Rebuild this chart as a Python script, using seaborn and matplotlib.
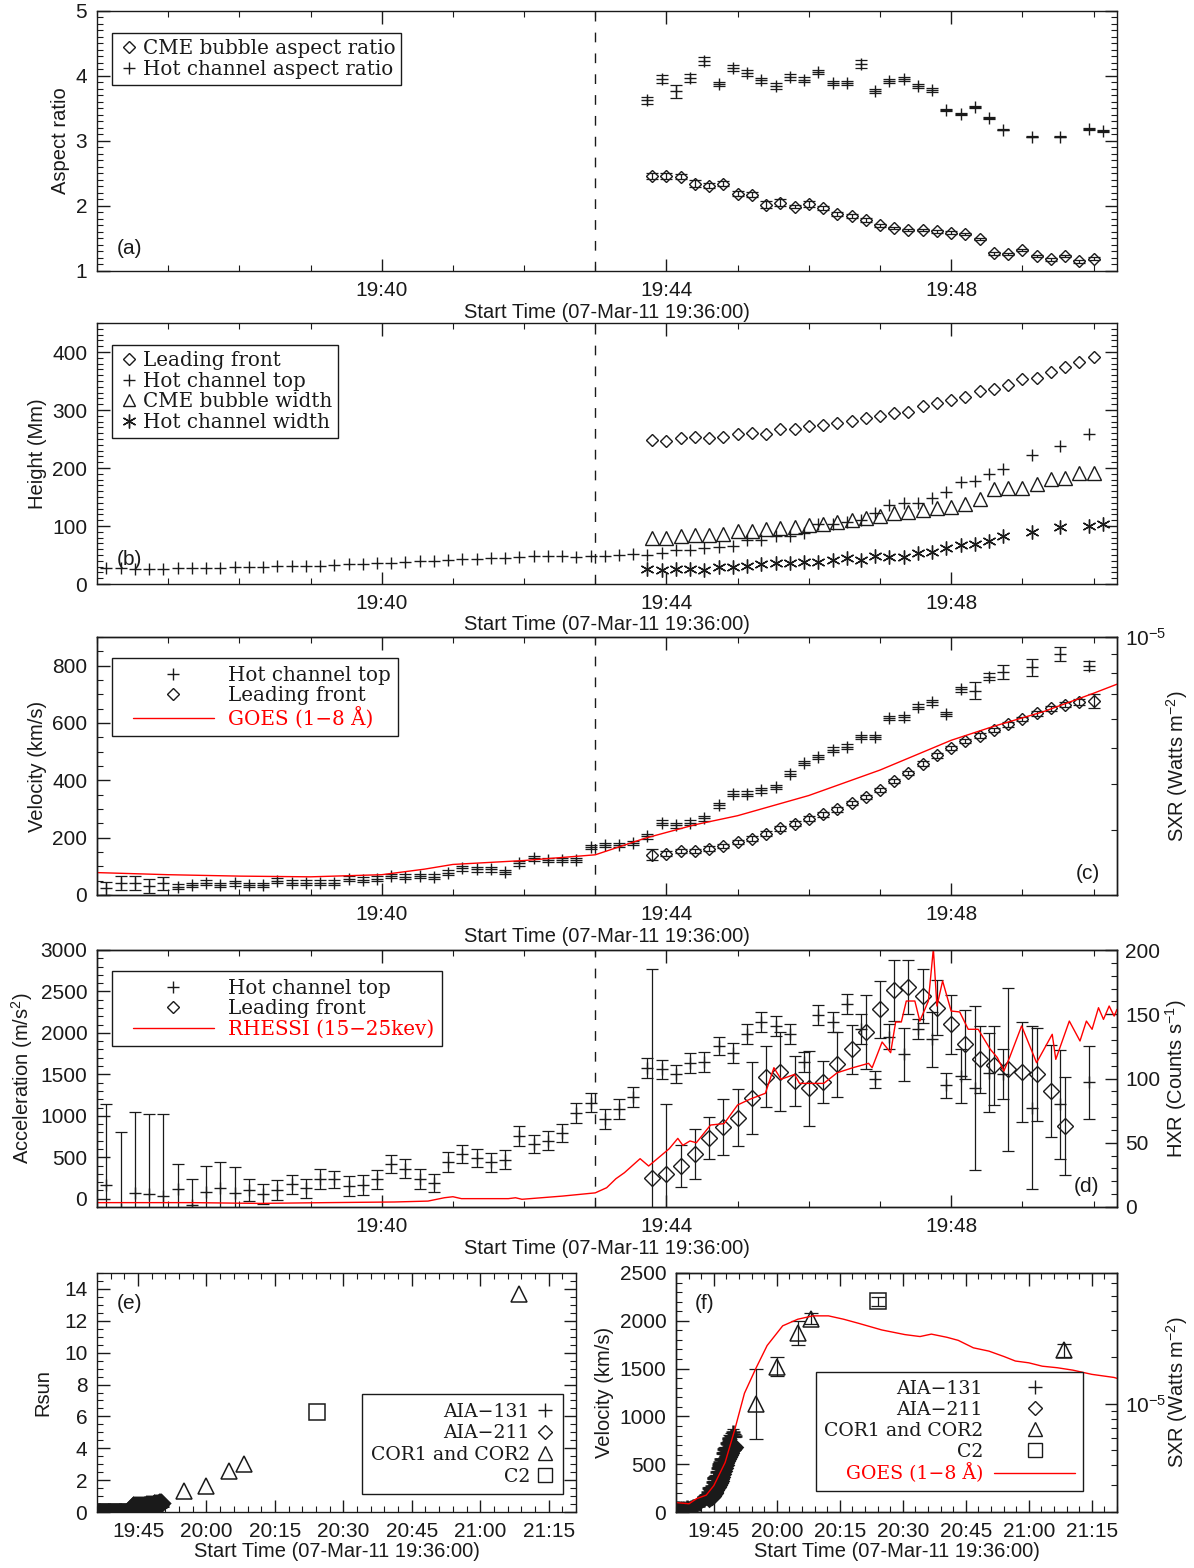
import numpy as np
import matplotlib
matplotlib.use("Agg")
import matplotlib.pyplot as plt
import seaborn as sns
from matplotlib.lines import Line2D
from matplotlib.legend_handler import HandlerLine2D
from matplotlib.ticker import FixedLocator, FixedFormatter, MultipleLocator, LogLocator, NullFormatter

# ======================= DATA =======================
# AIA 131 hot channel top: time (s after 19:36:00), height (Mm), velocity (km/s), acceleration (m/s^2)
hot_t = [8, 20, 32, 44, 56, 68, 80, 92, 104, 116, 128, 140, 152, 164, 176, 188, 200, 212, 224, 236,
         248, 260, 272, 284, 296, 308, 320, 332, 344, 356, 368, 380, 392, 404, 416, 428, 440, 452, 464, 476,
         488, 500, 512, 524, 536, 548, 560, 572, 584, 596, 608, 620, 632, 644, 656, 668, 680, 692, 704, 716,
         728, 740, 752, 764, 788, 812, 836]
hot_h = [27, 27, 26, 25.5, 25.5, 27, 27, 28, 28, 30, 30, 30, 31, 31, 31.5, 31.5, 33, 34, 34.5, 35.6,
         36.7, 38.5, 39.5, 40, 41.4, 42.5, 42.5, 44.3, 44.3, 47, 48, 48, 48, 46, 48, 49, 50, 52, 50, 53,
         58.8, 58.8, 61.7, 63.5, 65.8, 76.4, 76.4, 82, 83.3, 88, 102.6, 103.6, 106.6, 110, 123, 136, 139.3, 140.3, 149, 158,
         175.4, 178.4, 190, 198.8, 223, 238, 258]
hot_v = [23, 41, 41, 32, 41, 29, 35, 43, 35, 41, 35, 35, 50, 43, 43, 43, 43, 57, 54, 57,
         66, 64, 67, 64, 78, 93, 89, 89, 80, 110, 128, 122, 122, 122, 168, 174, 174, 182, 205, 252,
         243, 252, 267, 313, 354, 354, 365, 377, 423, 460, 481, 507, 518, 551, 551, 618, 620, 657, 672, 632,
         717, 713, 762, 777, 794, 841, 800]
hot_v_err = [22, 25, 25, 25, 22, 8, 8, 8, 8, 8, 8, 8, 8, 8, 8, 8, 8, 8, 8, 8,
             8, 8, 8, 8, 8, 8, 8, 8, 8, 8, 8, 8, 8, 8, 8, 8, 8, 8, 8, 8,
             8, 8, 8, 8, 8, 8, 8, 8, 8, 8, 8, 8, 8, 8, 8, 8, 8, 8, 8, 8,
             10, 30, 12, 25, 30, 25, 15]
hot_a = [164, -120, 72, 52, 32, 112, -76, 84, 124, 72, 104, 60, 104, 172, 124, 240, 232, 152, 164, 232,
         420, 364, 240, 192, 444, 540, 492, 440, 472, 752, 660, 700, 792, 1032, 1160, 960, 1085, 1230, 1580, 1560,
         1500, 1632, 1648, 1842, 1761, 1982, 2131, 2083, 1990, 1648, 2211, 2131, 2344, 2050, 1440, 1954, 1741, 2043, 1922, 1367,
         1480, 1339, 1520, 1500, 1098, 1138, 1407]
hot_a_err = [976, 920, 972, 972, 988, 308, 316, 308, 316, 308, 128, 120, 116, 112, 116, 120, 108, 120, 116, 120,
             104, 116, 120, 112, 116, 104, 112, 112, 112, 120, 104, 112, 112, 120, 112, 120, 120, 120, 120, 117,
             110, 120, 120, 110, 120, 120, 120, 120, 120, 120, 120, 120, 120, 180, 100, 150, 320, 120, 330, 150,
             320, 990, 480, 300, 980, 660, 440]

# hot channel aspect ratio and width (s after 19:36:00)
hw_t = [464, 476, 488, 500, 512, 524, 536, 548, 560, 572, 584, 596, 608, 620, 632, 644, 656, 668, 680, 692,
        704, 716, 728, 740, 752, 764, 788, 812, 836, 848]
hot_ar = [3.62, 3.95, 3.76, 3.96, 4.22, 3.87, 4.12, 4.04, 3.93, 3.84, 3.98, 3.94, 4.05, 3.89, 3.88, 4.18, 3.76, 3.92, 3.95, 3.84,
          3.78, 3.47, 3.41, 3.52, 3.35, 3.17, 3.06, 3.06, 3.18, 3.15]
hot_ar_err = [0.05, 0.06, 0.10, 0.06, 0.06, 0.03, 0.05, 0.05, 0.04, 0.04, 0.05, 0.04, 0.03, 0.03, 0.03, 0.06, 0.03, 0.03, 0.03, 0.03,
              0.03, 0.02, 0.02, 0.02, 0.02, 0.01, 0.01, 0.01, 0.02, 0.01]
hot_w = [25.6, 23.8, 25.6, 25.6, 25, 29.7, 28.5, 31, 34.4, 36.7, 36.7, 38.4, 37.2, 41.4, 44.3, 41.4, 48.3, 47.1, 47.1, 54.1,
         55.9, 61.7, 67.6, 68.8, 73.4, 82, 90.3, 98, 99.7, 103.6]

# AIA 211 leading front / CME bubble (s after 19:36:00)
lf_t = [468, 480, 492, 504, 516, 528, 540, 552, 564, 576, 588, 600, 612, 624, 636, 648, 660, 672, 684, 696,
        708, 720, 732, 744, 756, 768, 780, 792, 804, 816, 828, 840]
lf_ar = [2.46, 2.46, 2.45, 2.34, 2.31, 2.34, 2.19, 2.17, 2.02, 2.05, 1.99, 2.03, 1.97, 1.88, 1.85, 1.79, 1.70, 1.66, 1.63, 1.63,
         1.61, 1.59, 1.57, 1.49, 1.27, 1.26, 1.32, 1.23, 1.18, 1.23, 1.15, 1.19]
lf_ar_err = [0.05, 0.05, 0.04, 0.05, 0.04, 0.04, 0.04, 0.04, 0.05, 0.05, 0.03, 0.04, 0.03, 0.03, 0.03, 0.03, 0.02, 0.02, 0.02, 0.02,
             0.02, 0.02, 0.02, 0.02, 0.02, 0.02, 0.02, 0.02, 0.02, 0.02, 0.02, 0.02]
lf_h = [248, 246.5, 251, 254, 252, 254, 259, 261, 258, 267, 267, 273, 274, 277, 281, 287, 289, 294, 297, 307,
        312, 317, 322, 333, 336, 343, 353, 355, 365, 374, 382, 392]
cme_w = [80, 80, 82, 85, 85, 86, 91, 92, 95.5, 97, 98.5, 101, 104, 107, 109.5, 113, 118, 122, 125, 128,
         130.5, 133, 138, 146, 164, 165.5, 165.5, 172, 181, 182, 192, 192]
lf_v = [141, 144, 153, 154, 162, 171, 185, 197, 214, 232, 249, 266, 281, 299, 321, 342, 367, 397, 426, 458,
        487, 513, 537, 556, 576, 595, 614, 634, 651, 664, 672, 676]
lf_v_err = [20, 8, 8, 8, 8, 8, 8, 8, 8, 8, 8, 8, 8, 8, 8, 8, 8, 8, 8, 8,
            8, 8, 8, 8, 8, 8, 8, 8, 8, 8, 10, 25]
lfa_t = [468, 480, 492, 504, 516, 528, 540, 552, 564, 576, 588, 600, 612, 624, 636, 648, 660, 672, 684, 696,
         708, 720, 732, 744, 756, 768, 780, 792, 804, 816]
lf_a = [253, 302, 394, 535, 728, 864, 977, 1218, 1472, 1532, 1419, 1331, 1407, 1620, 1801, 2010, 2284, 2513, 2553, 2445,
        2304, 2103, 1862, 1681, 1608, 1560, 1528, 1500, 1299, 877]
lf_a_err = [2520, 844, 250, 300, 255, 335, 345, 434, 370, 480, 300, 450, 250, 395, 295, 450, 348, 365, 330, 330,
            330, 358, 420, 400, 480, 985, 600, 560, 560, 590]

# GOES 1-8 A flux (W m^-2) for panel (c): minutes after 19:36
goes_c_t = [0, 1.0, 2.0, 3.0, 4.0, 4.6, 5.0, 6.0, 7.0, 7.7, 8.4, 9.0, 10.0, 11.0, 12.0, 12.6, 13.3, 14.0, 14.33]
goes_c_f = [2.30e-6, 2.27e-6, 2.25e-6, 2.24e-6, 2.27e-6, 2.35e-6, 2.42e-6, 2.48e-6, 2.57e-6, 2.85e-6,
            3.10e-6, 3.28e-6, 3.72e-6, 4.36e-6, 5.25e-6, 5.73e-6, 6.28e-6, 7.04e-6, 7.45e-6]
# RHESSI 15-25 keV counts/s, minutes after 19:36
rhessi_t = [0, 1.34, 2.28, 3.23, 4.18, 4.65, 4.88, 5.0, 5.12, 5.78, 5.88, 5.97, 6.54, 7.0, 7.16, 7.29, 7.41, 7.63, 7.75, 8.04,
            8.16, 8.23, 8.33, 8.42, 8.62, 8.81, 9.0, 9.17, 9.39, 9.51, 9.61, 9.8, 9.87, 10.21, 10.4, 10.62, 10.84, 10.89, 11.03, 11.15,
            11.22, 11.3, 11.37, 11.49, 11.56, 11.68, 11.75, 11.8, 11.88, 12.0, 12.12, 12.24, 12.38, 12.55, 12.65, 12.74, 12.82, 12.99, 13.2, 13.42,
            13.47, 13.66, 13.81, 13.9, 13.98, 14.07, 14.14, 14.22, 14.29, 14.33]
rhessi_c = [3.4, 3.4, 2.8, 3.4, 3.9, 4.6, 7.2, 8, 6.5, 6.5, 7.2, 6, 8.5, 11, 15, 22, 26.7, 37.6, 31.9, 45.4,
            53.4, 48, 51.4, 50, 63.8, 64.9, 79.4, 83.8, 88.5, 108.4, 99.4, 103.2, 96.2, 96.2, 104.5, 108.4, 111.8, 108.4, 128.4, 120.1,
            144, 144, 160.3, 160.3, 144.7, 160.3, 201, 156.4, 175.9, 152.5, 151.8, 138.3, 138.3, 122.7, 116.2, 105.8, 116.2, 140.9, 112.3, 134.4,
            114.9, 144.7, 129.2, 144.7, 138.3, 155.1, 146, 156.4, 148.6, 153.8]

# coronagraph data (minutes after 19:36)
cor_t = [19.0, 24.0, 29.0, 32.2, 92.4]
cor_h = [1.31, 1.62, 2.57, 3.03, 13.66]
cor_v = [1129, 1521, 1871, 2021, 1690]
cor_v_err = [367, 100, 128, 58, 65]
c2_t = [48.2]
c2_h = [6.29]
c2_v = [2204]
c2_v_err = [47]
# GOES for panel (f)
goes_f_t = [0.1, 3.1, 4.9, 7.2, 9.0, 11.7, 14.0, 16.3, 19.0, 21.7, 25.4, 29.0, 32.6, 36.3, 39.9, 43.5, 49.0, 54.5, 58.1, 60.8,
            64.5, 67.2, 70.8, 74.5, 78.1, 80.8, 84.0, 87.2, 90.8, 94.5, 99.0, 104.3, 105.0]
goes_f_f = [2.30e-6, 2.26e-6, 2.44e-6, 2.57e-6, 2.96e-6, 4.18e-6, 6.83e-6, 1.17e-5, 1.69e-5, 2.38e-5, 3.19e-5, 3.52e-5, 3.70e-5,
            3.70e-5, 3.52e-5, 3.31e-5, 3.00e-5, 2.80e-5, 2.72e-5, 2.82e-5, 2.69e-5, 2.57e-5, 2.30e-5, 2.19e-5, 2.02e-5, 1.89e-5,
            1.84e-5, 1.75e-5, 1.71e-5, 1.65e-5, 1.55e-5, 1.48e-5, 1.46e-5]

RSUN_MM = 696.0
top_ticks = [4, 8, 12]
top_labels = ['19:40', '19:44', '19:48']
bot_ticks = [9, 24, 39, 54, 69, 84, 99]
bot_labels = ['19:45', '20:00', '20:15', '20:30', '20:45', '21:00', '21:15']
xlab = 'Start Time (07-Mar-11 19:36:00)'

# ======================= STYLE =======================
sns.set_theme(style='ticks', rc={'axes.edgecolor': 'k', 'text.color': 'k', 'xtick.color': 'k',
                                 'ytick.color': 'k', 'axes.labelcolor': 'k'})
plt.rcParams['font.family'] = ['Liberation Sans', 'DejaVu Sans']
plt.rcParams['mathtext.fontset'] = 'custom'
plt.rcParams['mathtext.rm'] = 'Liberation Sans'
plt.rcParams['mathtext.it'] = 'Liberation Sans:italic'
LEG_TOP = {'family': ['DejaVu Serif'], 'size': 14.3}
LEG_BOT = {'family': ['DejaVu Serif'], 'size': 13.6}
TICK_FS = 15
LAB_FS = 14.5

fig = plt.figure(figsize=(11.94, 15.68), dpi=100)
W, H = 1194.0, 1568.0


def add_ax(l, t, r, b):
    return fig.add_axes([l / W, 1 - b / H, (r - l) / W, (b - t) / H])


def style(ax, right=True):
    for s in ax.spines.values():
        s.set_linewidth(1.0)
        s.set_color('k')
    ax.tick_params(which='both', direction='in', top=True, bottom=True, left=True, right=right,
                   colors='k', labelsize=TICK_FS)
    ax.tick_params(which='major', length=9, width=1.0, pad=7)
    ax.tick_params(which='minor', length=4.5, width=0.8)


def style_twin(ax2):
    for s in ax2.spines.values():
        s.set_linewidth(1.0)
        s.set_color('k')
    ax2.tick_params(which='both', direction='in', left=False, right=True, top=False, bottom=False,
                    colors='k', labelsize=TICK_FS)
    ax2.tick_params(which='major', length=9, width=1.0, pad=6)
    ax2.tick_params(which='minor', length=4.5, width=0.8)


def mins(s):
    return np.asarray(s, dtype=float) / 60.0


def pts(ax, x, y, marker, ms, mew=1.0, z=4):
    sns.lineplot(x=np.asarray(x, float), y=np.asarray(y, float), ax=ax, estimator=None, sort=False,
                 errorbar=None, linestyle='none', marker=marker, ms=ms, mfc='none', mec='k', mew=mew,
                 color='k', zorder=z, legend=False)


def ebar(ax, x, y, e, cap=4.5, lw=0.9):
    ax.errorbar(x, y, yerr=e, fmt='none', ecolor='k', elinewidth=lw, capsize=cap, capthick=lw, zorder=3)


def handle(marker, ms, mew=1.0, color='k', ls='none', lw=1.0):
    return Line2D([], [], marker=marker, ms=ms, mfc='none', mec=color, mew=mew, color=color, ls=ls, lw=lw)


def top_xaxis(ax):
    ax.set_xlim(0, 14.33)
    ax.xaxis.set_major_locator(FixedLocator(top_ticks))
    ax.xaxis.set_major_formatter(FixedFormatter(top_labels))
    ax.xaxis.set_minor_locator(MultipleLocator(1))
    ax.set_xlabel(xlab, fontsize=LAB_FS, labelpad=2)
    ax.axvline(7, color='k', ls=(0, (7, 8)), lw=1.0, zorder=2)


def bot_xaxis(ax):
    ax.set_xlim(0, 105)
    ax.xaxis.set_major_locator(FixedLocator(bot_ticks))
    ax.xaxis.set_major_formatter(FixedFormatter(bot_labels))
    ax.xaxis.set_minor_locator(MultipleLocator(3))
    ax.set_xlabel(xlab, fontsize=LAB_FS, labelpad=1)


def make_leg(ax, handles, labels, anchor, loc='upper left', colors=None, xpad=0.0, prop=LEG_TOP, **kw):
    leg = ax.legend(handles, labels, loc=loc, bbox_to_anchor=anchor, borderaxespad=0, prop=prop,
                    frameon=True, fancybox=False, edgecolor='k', framealpha=1,
                    handler_map={Line2D: HandlerLine2D(xpad=xpad)}, **kw)
    leg.get_frame().set_linewidth(1.0)
    leg.set_zorder(10)
    if colors:
        for t, c in zip(leg.get_texts(), colors):
            t.set_color(c)
    return leg


# ======================= (a) =======================
axa = add_ax(97, 10.5, 1117, 271)
style(axa)
top_xaxis(axa)
ebar(axa, mins(hw_t), hot_ar, hot_ar_err)
pts(axa, mins(hw_t), hot_ar, '+', 9)
ebar(axa, mins(lf_t), lf_ar, lf_ar_err)
pts(axa, mins(lf_t), lf_ar, 'D', 6.5)
axa.set_ylim(1, 5)
axa.yaxis.set_major_locator(MultipleLocator(1))
axa.yaxis.set_minor_locator(MultipleLocator(0.1))
axa.set_ylabel('Aspect ratio', fontsize=LAB_FS)
axa.text(0.0196, 0.088, '(a)', transform=axa.transAxes, fontsize=TICK_FS, va='center', ha='left')
make_leg(axa, [handle('D', 6.5), handle('+', 9)], ['CME bubble aspect ratio', 'Hot channel aspect ratio'],
         (0.0147, 0.9136), handlelength=1.1, handletextpad=0.15, borderpad=0.3, labelspacing=0.1)

# ======================= (b) =======================
axb = add_ax(97, 323, 1117, 584)
style(axb)
top_xaxis(axb)
pts(axb, mins(lf_t), lf_h, 'D', 6.5)
pts(axb, mins(hot_t), hot_h, '+', 9)
pts(axb, mins(lf_t), cme_w, '^', 10.5)
pts(axb, mins(hw_t), hot_w, (6, 2, 0), 10, mew=1.0)
axb.set_ylim(0, 450)
axb.yaxis.set_major_locator(MultipleLocator(100))
axb.yaxis.set_minor_locator(MultipleLocator(10))
axb.set_ylabel('Height (Mm)', fontsize=LAB_FS)
axb.text(0.0196, 0.092, '(b)', transform=axb.transAxes, fontsize=TICK_FS, va='center', ha='left')
make_leg(axb, [handle('D', 6.5), handle('+', 9), handle('^', 9), handle((6, 2, 0), 10)],
         ['Leading front', 'Hot channel top', 'CME bubble width', 'Hot channel width'],
         (0.0147, 0.9157), handlelength=1.1, handletextpad=0.15, borderpad=0.3, labelspacing=0.08)

# ======================= (c) =======================
axc = add_ax(97, 637, 1117, 895)
style(axc, right=False)
top_xaxis(axc)
ebar(axc, mins(hot_t), hot_v, hot_v_err)
pts(axc, mins(hot_t), hot_v, '+', 9)
ebar(axc, mins(lf_t), lf_v, lf_v_err)
pts(axc, mins(lf_t), lf_v, 'D', 6.5)
axc.set_ylim(0, 900)
axc.yaxis.set_major_locator(MultipleLocator(200))
axc.yaxis.set_minor_locator(MultipleLocator(50))
axc.set_ylabel('Velocity (km/s)', fontsize=LAB_FS)
axc.text(0.983, 0.085, '(c)', transform=axc.transAxes, fontsize=TICK_FS, va='center', ha='right')
axc2 = axc.twinx()
sns.lineplot(x=goes_c_t, y=goes_c_f, ax=axc2, estimator=None, sort=False, errorbar=None, color='red', lw=1.0, legend=False)
axc2.set_yscale('log')
axc2.set_ylim(2e-6, 1e-5)
axc2.yaxis.set_major_locator(LogLocator(base=10, numticks=10))
axc2.yaxis.set_minor_locator(LogLocator(base=10, subs=np.arange(2, 10), numticks=10))
axc2.yaxis.set_minor_formatter(NullFormatter())
axc2.set_ylabel('SXR (Watts m$^{-2}$)', fontsize=LAB_FS, labelpad=-2)
style_twin(axc2)
axc2.set_xlim(0, 14.33)
make_leg(axc2, [handle('+', 9), handle('D', 6.5), handle(None, 0, color='red', ls='-', lw=1.0)],
         ['Hot channel top', 'Leading front', 'GOES (1\u22128 \u00c5)'], (0.0147, 0.9186),
         colors=['k', 'k', 'red'], xpad=0.68, handlelength=4.75, handletextpad=0.7, borderpad=0.38,
         labelspacing=0.08)

# ======================= (d) =======================
axd = add_ax(97, 950, 1117, 1207)
style(axd, right=False)
top_xaxis(axd)
ebar(axd, mins(hot_t), hot_a, hot_a_err)
pts(axd, mins(hot_t), hot_a, '+', 9)
ebar(axd, mins(lfa_t), lf_a, lf_a_err)
pts(axd, mins(lfa_t), lf_a, 'D', 8)
axd.set_ylim(-100, 3000)
axd.yaxis.set_major_locator(MultipleLocator(500))
axd.yaxis.set_minor_locator(MultipleLocator(100))
axd.set_ylabel('Acceleration (m/s$^{2}$)', fontsize=LAB_FS)
axd.text(0.983, 0.078, '(d)', transform=axd.transAxes, fontsize=TICK_FS, va='center', ha='right')
axd2 = axd.twinx()
sns.lineplot(x=rhessi_t, y=rhessi_c, ax=axd2, estimator=None, sort=False, errorbar=None, color='red', lw=1.0, legend=False)
axd2.set_ylim(0, 200)
axd2.yaxis.set_major_locator(MultipleLocator(50))
axd2.yaxis.set_minor_locator(MultipleLocator(10))
axd2.set_ylabel('HXR (Counts s$^{-1}$)', fontsize=LAB_FS, labelpad=2)
style_twin(axd2)
axd2.set_xlim(0, 14.33)
make_leg(axd2, [handle('+', 9), handle('D', 6.5), handle(None, 0, color='red', ls='-', lw=1.0)],
         ['Hot channel top', 'Leading front', 'RHESSI (15\u221225kev)'], (0.0147, 0.918),
         colors=['k', 'k', 'red'], xpad=0.68, handlelength=4.75, handletextpad=0.7, borderpad=0.38,
         labelspacing=0.08)

# ======================= (e) =======================
axe = add_ax(97, 1273, 576, 1512)
style(axe)
bot_xaxis(axe)
pts(axe, mins(hot_t), np.asarray(hot_h) / RSUN_MM, '+', 11, mew=2.2)
pts(axe, mins(lf_t), np.asarray(lf_h) / RSUN_MM, 'D', 8, mew=2.2)
pts(axe, cor_t, cor_h, '^', 12, mew=1.1)
pts(axe, c2_t, c2_h, 's', 11, mew=1.1)
axe.set_ylim(0, 15)
axe.yaxis.set_major_locator(MultipleLocator(2))
axe.yaxis.set_minor_locator(MultipleLocator(0.5))
axe.set_ylabel('Rsun', fontsize=LAB_FS, labelpad=8)
axe.text(0.042, 0.874, '(e)', transform=axe.transAxes, fontsize=TICK_FS, va='center', ha='left')
make_leg(axe, [handle('+', 10), handle('D', 7), handle('^', 10), handle('s', 10)],
         ['AIA\u2212131', 'AIA\u2212211', 'COR1 and COR2', 'C2'],
         (0.9729, 0.4937), loc='upper right', markerfirst=False, prop=LEG_BOT,
         handlelength=1.0, handletextpad=0.3, borderpad=0.45, labelspacing=0.2)

# ======================= (f) =======================
axf = add_ax(676, 1273, 1117, 1512)
style(axf, right=False)
bot_xaxis(axf)
ebar(axf, mins(hot_t), hot_v, hot_v_err, cap=4)
pts(axf, mins(hot_t), hot_v, '+', 10, mew=1.8)
ebar(axf, mins(lf_t), lf_v, lf_v_err, cap=4)
pts(axf, mins(lf_t), lf_v, 'D', 7, mew=1.8)
ebar(axf, cor_t, cor_v, cor_v_err, cap=5)
pts(axf, cor_t, cor_v, '^', 12, mew=1.1)
ebar(axf, c2_t, c2_v, c2_v_err, cap=5)
pts(axf, c2_t, c2_v, 's', 11, mew=1.1)
axf.set_ylim(0, 2500)
axf.yaxis.set_major_locator(MultipleLocator(500))
axf.yaxis.set_minor_locator(MultipleLocator(100))
axf.set_ylabel('Velocity (km/s)', fontsize=LAB_FS)
axf.text(0.043, 0.874, '(f)', transform=axf.transAxes, fontsize=TICK_FS, va='center', ha='left')
axf2 = axf.twinx()
sns.lineplot(x=goes_f_t, y=goes_f_f, ax=axf2, estimator=None, sort=False, errorbar=None, color='red', lw=1.0, legend=False)
axf2.set_yscale('log')
axf2.set_ylim(2e-6, 7e-5)
axf2.yaxis.set_major_locator(LogLocator(base=10, numticks=10))
axf2.yaxis.set_minor_locator(LogLocator(base=10, subs=np.arange(2, 10), numticks=10))
axf2.yaxis.set_minor_formatter(NullFormatter())
axf2.set_ylabel('SXR (Watts m$^{-2}$)', fontsize=LAB_FS, labelpad=-2)
style_twin(axf2)
axf2.set_xlim(0, 105)
make_leg(axf2, [handle('+', 10), handle('D', 7), handle('^', 10), handle('s', 10),
                handle(None, 0, color='red', ls='-', lw=1.0)],
         ['AIA\u2212131', 'AIA\u2212211', 'COR1 and COR2', 'C2', 'GOES (1\u22128 \u00c5)'],
         (0.923, 0.586), loc='upper right', markerfirst=False, colors=['k', 'k', 'k', 'k', 'red'],
         prop=LEG_BOT, handlelength=4.3, handletextpad=0.6, borderpad=0.4, labelspacing=0.16)

fig.savefig('out.png', dpi=100)
